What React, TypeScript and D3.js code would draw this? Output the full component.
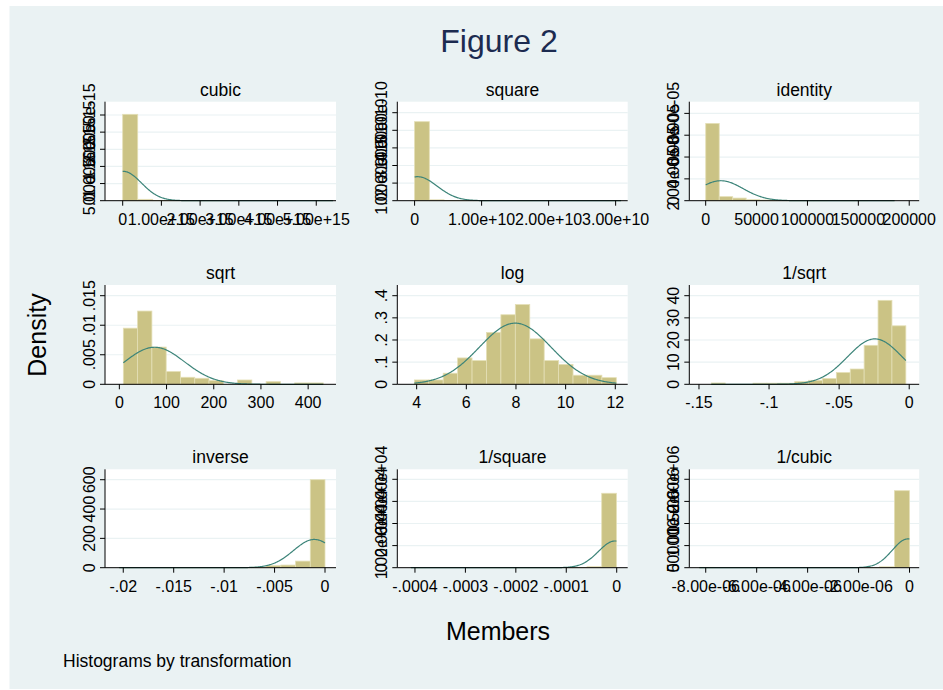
import React from 'react';
import * as d3 from 'd3';

// panel order: row by row
const panelNames = ['cubic', 'square', 'identity', 'sqrt', 'log', '1/sqrt', 'inverse', '1/square', '1/cubic'];

// histogram bins (14 per panel): first edge and bin width
const binStart = [0, 0, 50, 8.45, 3.907, -0.1412, -0.0204, -0.000408, -8.25e-6];
const binWidth = [3.88e14, 2.2e9, 13250, 30.25, 0.581, 0.009914, 0.001457, 2.91e-5, 5.89e-7];

// densities
const cubicDensity = [2.52e-15, 4e-17, 1e-17, 4e-18, 2e-18, 1e-18, 1e-18, 0, 0, 0, 0, 0, 0, 1e-18];
const squareDensity = [4.49e-10, 5e-12, 1.5e-12, 5e-13, 3e-13, 0, 0, 2e-13, 0, 0, 0, 0, 0, 1e-13];
const identityDensity = [7.08e-5, 3.7e-6, 2.4e-6, 9e-7, 6e-7, 3e-7, 1.5e-7, 1.5e-7, 1e-7, 0, 5e-8, 5e-8, 0, 5e-8];
const sqrtDensity = [0.0095, 0.0124, 0.0063, 0.00215, 0.00119, 0.00102, 0.00062, 0, 0.00073, 0, 0.00045, 0, 0.00023, 0.00023];
const logDensity = [0.0196, 0.0196, 0.05, 0.119, 0.107, 0.234, 0.314, 0.36, 0.205, 0.107, 0.09, 0.041, 0.041, 0.03];
const invSqrtDensity = [0.6, 0, 0, 0.5, 0.5, 0.5, 1.2, 1.8, 2.6, 5.3, 6.9, 17.6, 37.9, 26.4];
const inverseDensity = [0.7, 0, 0, 0.3, 0.3, 0.5, 0.5, 1, 1.5, 3, 14, 18, 45, 600];
const invSquareDensity = [60, 0, 0, 0, 0, 10, 10, 20, 30, 40, 60, 150, 450, 33680];
const invCubicDensity = [8000, 0, 0, 0, 0, 0, 0, 0, 0, 0, 0, 2000, 20000, 1.742e6];
const densities = [cubicDensity, squareDensity, identityDensity, sqrtDensity, logDensity,
  invSqrtDensity, inverseDensity, invSquareDensity, invCubicDensity];

// normal overlay parameters
const normMean = [1.7e13, 4.5e8, 14900, 74.6, 7.97, -0.0245, -0.00106, -3.3e-6, -6.5e-8];
const normSd = [4.66e14, 2.925e9, 21800, 63.6, 1.445, 0.01946, 0.00207, 3.3e-5, 6.12e-7];

// axis ranges
const xDomains = [[-0.457e15, 5.51e15], [-0.258e10, 3.18e10], [-16100, 209800], [-30.4, 459], [3.22, 12.5],
  [-0.1569, 0.00713], [-0.02181, 0.00109], [-0.000435, 0.0000218], [-8.645e-6, 3.8e-7]];
const yMax = [2.888e-15, 5.625e-10, 9.07e-5, 0.01681, 0.4483, 44.83, 671, 44525, 2.226e6];

// tick values and labels
const xTicks = [
  [0, 1e15, 2e15, 3e15, 4e15, 5e15],
  [0, 1e10, 2e10, 3e10],
  [0, 50000, 100000, 150000, 200000],
  [0, 100, 200, 300, 400],
  [4, 6, 8, 10, 12],
  [-0.15, -0.1, -0.05, 0],
  [-0.02, -0.015, -0.01, -0.005, 0],
  [-0.0004, -0.0003, -0.0002, -0.0001, 0],
  [-8e-6, -6e-6, -4e-6, -2e-6, 0],
];
const xTickLabels = [
  ['0', '1.00e+15', '2.00e+15', '3.00e+15', '4.00e+15', '5.00e+15'],
  ['0', '1.00e+10', '2.00e+10', '3.00e+10'],
  ['0', '50000', '100000', '150000', '200000'],
  ['0', '100', '200', '300', '400'],
  ['4', '6', '8', '10', '12'],
  ['-.15', '-.1', '-.05', '0'],
  ['-.02', '-.015', '-.01', '-.005', '0'],
  ['-.0004', '-.0003', '-.0002', '-.0001', '0'],
  ['-8.00e-06', '-6.00e-06', '-4.00e-06', '-2.00e-06', '0'],
];
const yTicks = [
  [0, 5e-16, 1e-15, 1.5e-15, 2e-15, 2.5e-15],
  [0, 1e-10, 2e-10, 3e-10, 4e-10, 5e-10],
  [0, 2e-5, 4e-5, 6e-5, 8e-5],
  [0, 0.005, 0.01, 0.015],
  [0, 0.1, 0.2, 0.3, 0.4],
  [0, 10, 20, 30, 40],
  [0, 200, 400, 600],
  [0, 1e4, 2e4, 3e4, 4e4],
  [0, 5e5, 1e6, 1.5e6, 2e6],
];
const yTickLabels = [
  ['0', '5.00e-16', '1.00e-15', '1.50e-15', '2.00e-15', '2.50e-15'],
  ['0', '1.00e-10', '2.00e-10', '3.00e-10', '4.00e-10', '5.00e-10'],
  ['0', '2.00e-05', '4.00e-05', '6.00e-05', '8.00e-05'],
  ['0', '.005', '.01', '.015'],
  ['0', '.1', '.2', '.3', '.4'],
  ['0', '10', '20', '30', '40'],
  ['0', '200', '400', '600'],
  ['0', '1.00e+04', '2.00e+04', '3.00e+04', '4.00e+04'],
  ['0', '500000', '1.00e+06', '1.50e+06', '2.00e+06'],
];

const FONT = 'Liberation Sans, Arial, Helvetica, sans-serif';
const colLeft = [105, 397.3, 689.3];
const colRight = [336, 627.7, 919.2];
const rowTop = [101.7, 285, 469.3];
const rowBottom = [200.7, 384.3, 567.7];

const barFill = '#cbc385';
const barStroke = '#e4dfb6';
const curveColor = '#3c8479';
const bg = '#eaf2f3';
const tickFont = 16;

function Panel({ i }: { i: number }) {
  const col = i % 3;
  const row = Math.floor(i / 3);
  const x = d3.scaleLinear().domain(xDomains[i]).range([colLeft[col], colRight[col]]);
  const y = d3.scaleLinear().domain([0, yMax[i]]).range([rowBottom[row], rowTop[row]]);
  const dens = densities[i];
  const x0 = binStart[i];
  const w = binWidth[i];
  const x1 = x0 + w * dens.length;

  const pdf = (v: number) => Math.exp(-0.5 * ((v - normMean[i]) / normSd[i]) ** 2) / (normSd[i] * Math.sqrt(2 * Math.PI));
  const pts = d3.range(0, 301).map(k => x0 + (x1 - x0) * k / 300);
  const line = d3.line<number>().x(v => x(v)).y(v => y(pdf(v)));

  const left = colLeft[col], right = colRight[col];
  const top = rowTop[row], bottom = rowBottom[row];

  return (
    <g>
      <rect x={left} y={top} width={right - left} height={bottom - top} fill="#fff" />
      {yTicks[i].filter(t => t > 0).map((t, k) => (
        <line key={k} x1={left} x2={right} y1={y(t)} y2={y(t)} stroke={bg} strokeWidth={1.2} />
      ))}
      {dens.map((d, k) => d > 0 ? (
        <rect key={k} x={x(x0 + k * w)} y={y(d)} width={x(x0 + (k + 1) * w) - x(x0 + k * w)}
          height={y(0) - y(d)} fill={barFill} stroke={barStroke} strokeWidth={0.8} />
      ) : null)}
      <path d={line(pts) || ''} fill="none" stroke={curveColor} strokeWidth={1.2} />
      <line x1={left} x2={right} y1={bottom} y2={bottom} stroke="#000" strokeWidth={1} />
      <line x1={left} x2={left} y1={top} y2={bottom} stroke="#000" strokeWidth={1} />
      {xTicks[i].map((t, k) => (
        <g key={k}>
          <line x1={x(t)} x2={x(t)} y1={bottom} y2={bottom + 5} stroke="#000" strokeWidth={1} />
          <text x={x(t)} y={bottom + 24} textAnchor="middle" fontSize={tickFont} fontFamily={FONT} fill="#000">
            {xTickLabels[i][k]}
          </text>
        </g>
      ))}
      {yTicks[i].map((t, k) => (
        <g key={k}>
          <line x1={left - 5} x2={left} y1={y(t)} y2={y(t)} stroke="#000" strokeWidth={1} />
          <text transform={`translate(${left - 10},${y(t)}) rotate(-90)`} textAnchor="middle"
            fontSize={tickFont} fontFamily={FONT} fill="#000">
            {yTickLabels[i][k]}
          </text>
        </g>
      ))}
      <text x={(left + right) / 2} y={top - 6} textAnchor="middle" fontSize={17.5} fontFamily={FONT} fill="#000">
        {panelNames[i]}
      </text>
    </g>
  );
}

export default function App() {
  return (
    <svg width={943} height={690} style={{ position: 'absolute', left: 0, top: 0 }}>
      <rect x={0} y={0} width={943} height={690} fill="#fff" />
      <rect x={9.5} y={6} width={933.5} height={683} fill={bg} />
      <text x={499} y={52} textAnchor="middle" fontSize={32} fontFamily={FONT} fill="#1c2b50">Figure 2</text>
      {panelNames.map((_, i) => <Panel key={i} i={i} />)}
      <text transform="translate(46,335) rotate(-90)" textAnchor="middle" fontSize={25} fontFamily={FONT} fill="#000">Density</text>
      <text x={498} y={640} textAnchor="middle" fontSize={25} fontFamily={FONT} fill="#000">Members</text>
      <text x={63} y={667} fontSize={17.5} fontFamily={FONT} fill="#000">Histograms by transformation</text>
    </svg>
  );
}
